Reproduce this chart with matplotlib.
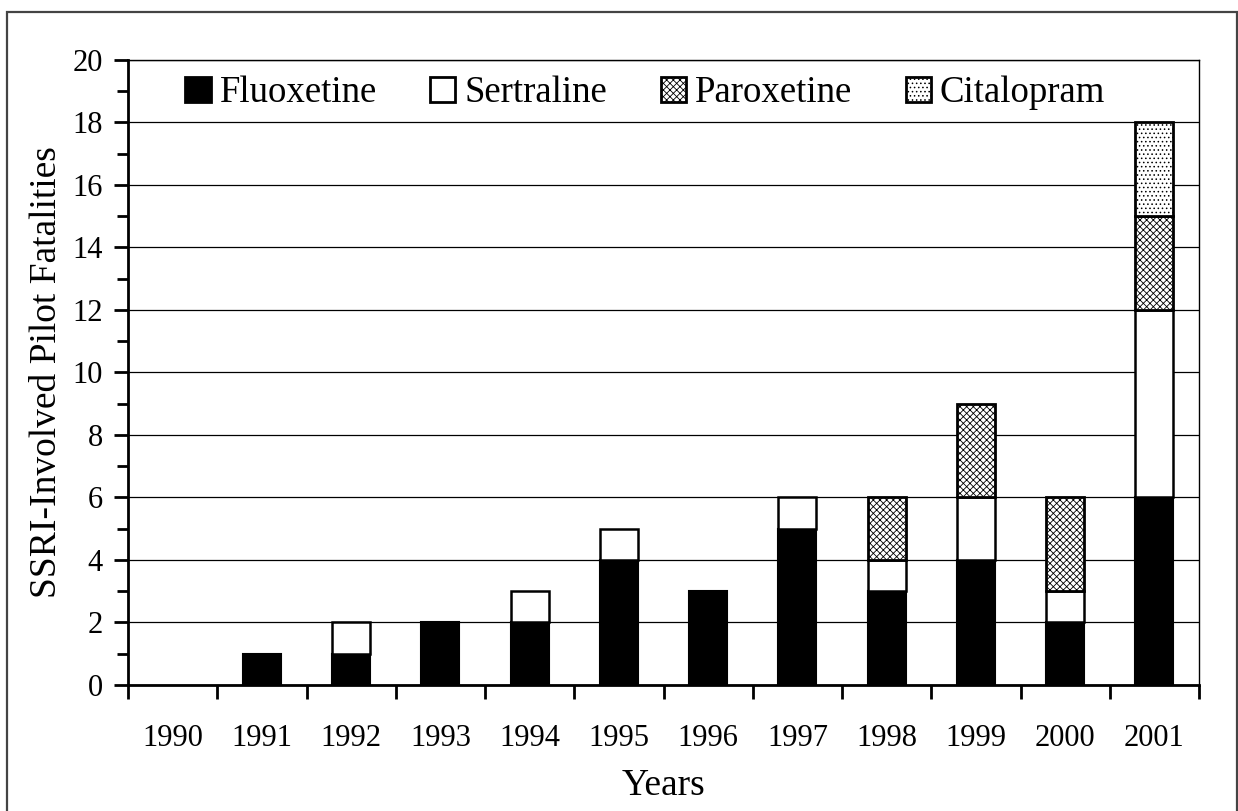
import matplotlib.pyplot as plt
import matplotlib.patches as mpatches
import numpy as np

plt.rcParams['font.family'] = ['Liberation Serif', 'DejaVu Serif']
plt.rcParams['hatch.linewidth'] = 0.6
plt.rcParams['hatch.color'] = '#444444'

years = ['1990', '1991', '1992', '1993', '1994', '1995',
         '1996', '1997', '1998', '1999', '2000', '2001']
fluoxetine = [0, 1, 1, 2, 2, 4, 3, 5, 3, 4, 2, 6]
sertraline = [0, 0, 1, 0, 1, 1, 0, 1, 1, 2, 1, 6]
paroxetine = [0, 0, 0, 0, 0, 0, 0, 0, 2, 3, 3, 3]
citalopram = [0, 0, 0, 0, 0, 0, 0, 0, 0, 0, 0, 3]

fig = plt.figure(figsize=(12.38, 8.11), dpi=100)
ax = fig.add_axes([0.1034, 0.1554, 0.8651, 0.7707])

x = np.arange(len(years))
w = 0.425
f = np.array(fluoxetine)
s = np.array(sertraline)
p = np.array(paroxetine)
c = np.array(citalopram)


def edge(vals, lw):
    # no outline on empty segments, otherwise a flat line shows up
    return [lw if v > 0 else 0 for v in vals]


ax.bar(x, f, w, color='black', edgecolor='black', lw=edge(f, 1.5),
       label='Fluoxetine', zorder=3)
ax.bar(x, s, w, bottom=f, color='white', edgecolor='black', lw=edge(s, 1.8),
       label='Sertraline', zorder=3)
ax.bar(x, p, w, bottom=f + s, color='white', edgecolor='black', lw=edge(p, 2),
       hatch='xxxxx', label='Paroxetine', zorder=3)
ax.bar(x, c, w, bottom=f + s + p, color='white', edgecolor='black', lw=edge(c, 2),
       hatch='....', label='Citalopram', zorder=3)

ax.set_xlim(-0.5, len(years) - 0.5)
ax.set_ylim(0, 20)
ax.set_yticks(range(0, 21, 2))
ax.set_yticks(range(1, 20, 2), minor=True)
ax.yaxis.grid(True, color='black', lw=0.9, zorder=0)

# ticks at the category boundaries, labels at the centres
ax.set_xticks(np.arange(-0.5, len(years), 1))
ax.set_xticklabels([])
ax.set_xticks(x, minor=True)
ax.set_xticklabels(years, minor=True)
ax.tick_params(axis='x', which='major', direction='out', length=10, width=2)
ax.tick_params(axis='x', which='minor', length=0, pad=28, labelsize=22)
ax.tick_params(axis='y', which='major', direction='out', length=10, width=2,
               labelsize=22, pad=8)
ax.tick_params(axis='y', which='minor', direction='out', length=8, width=2)

for side in ['left', 'bottom']:
    ax.spines[side].set_linewidth(2)
for side in ['top', 'right']:
    ax.spines[side].set_linewidth(1.0)

ax.set_xlabel('Years', fontsize=27, labelpad=11)
ax.set_ylabel('SSRI-Involved Pilot Fatalities', fontsize=27, labelpad=6)

leg = ax.legend(loc='center', ncol=4, frameon=False, fontsize=26.5,
                bbox_to_anchor=(0.483, 0.947), handlelength=0.68, handleheight=0.65,
                handletextpad=0.25, columnspacing=1.45, borderpad=0.1)
for h in leg.legend_handles:
    h.set_linewidth(2)

fig.patches.append(mpatches.Rectangle((0.0057, -0.02), 0.9935, 1.005, transform=fig.transFigure,
                                      fill=False, edgecolor='#444444', lw=1.6))

fig.savefig('out.png', dpi=100)
